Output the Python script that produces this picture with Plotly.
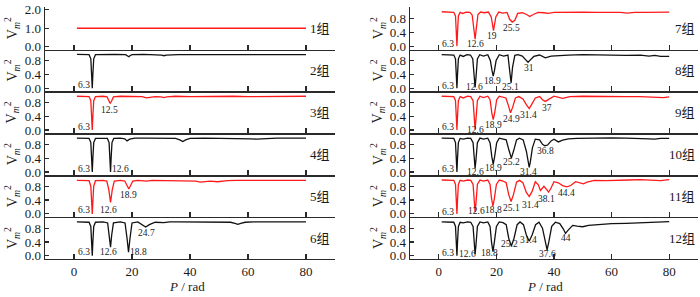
import plotly.graph_objects as go

# ---------------- data ----------------
x_g1 = [1, 20, 40, 60, 80]
y_g1 = [1.0, 1.0, 1.0, 1.0, 1.0]

x_g2 = [1, 4, 5.2, 5.8, 6.1, 6.3, 6.5, 6.8, 7.4, 10, 14, 17.8, 18.5, 18.9, 19.3, 20.0, 24, 28, 30.2, 31.0, 31.8, 36, 40, 45, 50, 53, 55.5, 58, 61, 64, 67, 71, 75, 80]
y_g2 = [0.98, 0.98, 0.97, 0.85, 0.4, 0.0, 0.4, 0.85, 0.97, 0.98, 0.98, 0.97, 0.94, 0.91, 0.94, 0.97, 0.98, 0.97, 0.96, 0.94, 0.96, 0.97, 0.97, 0.98, 0.97, 0.97, 0.96, 0.97, 0.96, 0.97, 0.97, 0.96, 0.97, 0.97]

x_g3 = [1, 4, 5.2, 5.8, 6.1, 6.3, 6.5, 6.8, 7.4, 10, 11.4, 12.0, 12.5, 13.0, 13.6, 16, 20, 23.5, 25, 26.5, 28, 30, 31, 32, 35, 40, 45, 50, 55, 60, 65, 70, 75, 80]
y_g3 = [0.98, 0.98, 0.97, 0.85, 0.4, 0.0, 0.4, 0.85, 0.97, 0.98, 0.96, 0.85, 0.77, 0.85, 0.96, 0.98, 0.98, 0.97, 0.93, 0.96, 0.97, 0.96, 0.94, 0.96, 0.98, 0.97, 0.98, 0.97, 0.98, 0.97, 0.97, 0.98, 0.97, 0.98]

x_g4 = [1, 4, 5.2, 5.8, 6.1, 6.3, 6.5, 6.8, 7.4, 10, 11.5, 12.1, 12.4, 12.6, 12.8, 13.1, 13.7, 16, 17.5, 18.3, 19.2, 21, 25, 29, 31, 33, 35, 36.5, 37.5, 38.5, 40, 45, 50, 55, 58, 61, 63, 66, 70, 75, 80]
y_g4 = [0.98, 0.98, 0.97, 0.85, 0.4, 0.0, 0.4, 0.85, 0.97, 0.98, 0.97, 0.85, 0.4, 0.0, 0.4, 0.85, 0.97, 0.98, 0.96, 0.9, 0.95, 0.98, 0.98, 0.97, 0.96, 0.97, 0.97, 0.93, 0.88, 0.93, 0.97, 0.98, 0.98, 0.98, 0.97, 0.96, 0.95, 0.97, 0.98, 0.98, 0.98]

x_g5 = [1, 4, 5.2, 5.8, 6.1, 6.3, 6.5, 6.8, 7.4, 10, 11.3, 12.0, 12.6, 13.2, 13.9, 16, 17.5, 18.3, 18.9, 19.5, 20.3, 22, 25, 27, 30, 35, 40, 42, 43.5, 45, 47, 49.5, 51, 53, 56, 60, 65, 70, 75, 78, 80]
y_g5 = [0.97, 0.97, 0.96, 0.8, 0.35, 0.0, 0.35, 0.8, 0.96, 0.97, 0.95, 0.7, 0.33, 0.7, 0.95, 0.97, 0.95, 0.82, 0.72, 0.82, 0.95, 0.97, 0.95, 0.97, 0.97, 0.97, 0.97, 0.95, 0.92, 0.94, 0.95, 0.93, 0.95, 0.96, 0.97, 0.97, 0.97, 0.96, 0.97, 0.95, 0.97]

x_g6 = [1, 4, 5.2, 5.8, 6.1, 6.3, 6.5, 6.8, 7.4, 10, 11.6, 12.2, 12.6, 13.0, 13.6, 16, 17.6, 18.3, 18.8, 19.3, 20.0, 22, 23.5, 24.7, 26, 28, 31, 33, 36, 40, 45, 50, 54, 55.5, 56.5, 57.5, 59, 62, 66, 70, 75, 80]
y_g6 = [0.98, 0.98, 0.97, 0.85, 0.4, 0.0, 0.4, 0.85, 0.97, 0.98, 0.95, 0.6, 0.25, 0.6, 0.95, 0.98, 0.95, 0.5, 0.1, 0.5, 0.95, 0.98, 0.9, 0.83, 0.9, 0.97, 0.96, 0.98, 0.98, 0.98, 0.97, 0.98, 0.97, 0.94, 0.91, 0.94, 0.97, 0.98, 0.98, 0.98, 0.98, 0.98]

x_g7 = [1, 3, 5.2, 5.8, 6.1, 6.3, 6.5, 6.8, 7.4, 8.3, 9.5, 10.8, 11.6, 12.2, 12.6, 13.0, 13.6, 14.5, 15.8, 17.2, 18.2, 19.0, 19.8, 20.8, 22.2, 23.7, 24.6, 25.5, 26.4, 27.4, 29, 30.5, 31.6, 32.8, 34.5, 36.5, 38, 40, 45, 50, 55, 60, 63, 65.5, 68, 72, 76, 80]
y_g7 = [1.0, 1.0, 0.98, 0.88, 0.4, 0.0, 0.4, 0.88, 0.98, 0.95, 0.99, 0.98, 0.9, 0.5, 0.2, 0.5, 0.92, 0.99, 0.97, 0.99, 0.85, 0.45, 0.85, 0.99, 0.96, 0.98, 0.78, 0.7, 0.75, 0.95, 0.97, 0.92, 0.86, 0.92, 0.98, 0.97, 0.95, 0.98, 0.99, 0.99, 0.98, 0.99, 0.98, 0.96, 0.98, 0.98, 0.99, 0.99]

x_g8 = [1, 3, 5.2, 5.8, 6.1, 6.3, 6.5, 6.8, 7.4, 8.5, 9.8, 11, 11.8, 12.3, 12.6, 12.9, 13.4, 14.2, 15.5, 17, 17.9, 18.5, 18.9, 19.3, 19.9, 21, 22.5, 24, 24.6, 25.1, 25.6, 26.4, 27.5, 29, 30.2, 31, 31.8, 33, 35, 37, 39, 42, 45, 50, 55, 60, 65, 70, 73, 75, 77, 80]
y_g8 = [0.97, 0.97, 0.96, 0.85, 0.4, 0.0, 0.4, 0.85, 0.96, 0.92, 0.97, 0.96, 0.85, 0.3, 0.02, 0.3, 0.85, 0.97, 0.93, 0.97, 0.8, 0.5, 0.35, 0.5, 0.8, 0.97, 0.93, 0.96, 0.6, 0.15, 0.6, 0.95, 0.97, 0.93, 0.82, 0.75, 0.82, 0.92, 0.96, 0.88, 0.93, 0.95, 0.96, 0.97, 0.96, 0.97, 0.95, 0.96, 0.93, 0.95, 0.92, 0.92]

x_g9 = [1, 3, 5.2, 5.8, 6.1, 6.3, 6.5, 6.8, 7.4, 8.5, 10, 11.1, 11.9, 12.3, 12.6, 12.9, 13.4, 14.3, 15.5, 17, 17.8, 18.4, 18.9, 19.4, 20.1, 21, 22.3, 23.3, 24.2, 24.9, 25.6, 26.6, 27.8, 29.2, 30.5, 31.4, 32.3, 33.5, 35, 36, 37, 38.2, 40, 43, 45.5, 50, 55, 60, 65, 70, 75, 78, 80]
y_g9 = [0.98, 0.98, 0.97, 0.85, 0.4, 0.0, 0.4, 0.85, 0.97, 0.93, 0.98, 0.97, 0.85, 0.3, 0.02, 0.3, 0.85, 0.98, 0.94, 0.98, 0.88, 0.5, 0.3, 0.5, 0.88, 0.98, 0.94, 0.93, 0.7, 0.5, 0.65, 0.93, 0.97, 0.9, 0.72, 0.62, 0.75, 0.93, 0.97, 0.88, 0.83, 0.9, 0.98, 0.92, 0.97, 0.98, 0.97, 0.98, 0.97, 0.97, 0.96, 0.94, 0.96]

x_g10 = [1, 3, 5.2, 5.8, 6.1, 6.3, 6.5, 6.8, 7.4, 8.5, 10, 11.1, 11.9, 12.3, 12.6, 12.9, 13.4, 14.3, 15.5, 17, 17.8, 18.4, 18.9, 19.4, 20.1, 21, 22.3, 23.4, 24.4, 25.2, 26.0, 27, 28, 29.3, 30.4, 31.0, 31.4, 31.8, 32.5, 33.5, 35, 36, 36.8, 37.8, 39, 40, 41.5, 43, 45, 48, 52, 56, 60, 65, 70, 73, 75, 77, 80]
y_g10 = [0.98, 0.98, 0.97, 0.85, 0.4, 0.0, 0.4, 0.85, 0.97, 0.95, 0.98, 0.97, 0.85, 0.35, 0.1, 0.35, 0.85, 0.98, 0.95, 0.98, 0.85, 0.45, 0.22, 0.45, 0.85, 0.98, 0.95, 0.93, 0.62, 0.4, 0.62, 0.93, 0.98, 0.93, 0.6, 0.3, 0.13, 0.3, 0.7, 0.95, 0.93, 0.8, 0.76, 0.78, 0.9, 0.95, 0.87, 0.92, 0.96, 0.97, 0.98, 0.99, 0.99, 0.98, 0.98, 0.96, 0.95, 0.97, 0.97]

x_g11 = [1, 3, 5.2, 5.8, 6.1, 6.3, 6.5, 6.8, 7.4, 8.5, 10, 11.1, 11.9, 12.3, 12.6, 12.9, 13.4, 14.3, 15.5, 17, 17.8, 18.3, 18.8, 19.3, 20.0, 21, 22.3, 23.4, 24.3, 25.1, 25.9, 27, 28, 29.2, 30.4, 31.4, 32.4, 33.5, 34.5, 35.3, 36.5, 37.5, 38.1, 38.8, 40, 41.5, 43, 44.4, 45.8, 47.5, 49, 50.2, 51.5, 54, 58, 62, 66, 70, 74, 77, 80]
y_g11 = [0.98, 0.98, 0.97, 0.85, 0.4, 0.0, 0.4, 0.85, 0.97, 0.95, 0.98, 0.97, 0.85, 0.3, 0.05, 0.3, 0.85, 0.98, 0.95, 0.98, 0.85, 0.45, 0.22, 0.45, 0.85, 0.98, 0.95, 0.9, 0.55, 0.36, 0.55, 0.92, 0.97, 0.9, 0.62, 0.5, 0.65, 0.93, 0.85, 0.68, 0.8, 0.7, 0.63, 0.72, 0.93, 0.9, 0.82, 0.78, 0.82, 0.93, 0.9, 0.87, 0.92, 0.97, 0.96, 0.98, 0.98, 0.99, 0.98, 0.96, 0.99]

x_g12 = [1, 3, 5.2, 5.8, 6.1, 6.3, 6.5, 6.8, 7.4, 8.5, 10, 11.1, 11.9, 12.3, 12.6, 12.9, 13.4, 14.3, 15.5, 17, 17.8, 18.3, 18.8, 19.3, 20.0, 21, 22.3, 23.4, 24.3, 25.2, 26.1, 27.2, 28.2, 29.4, 30.4, 31.4, 32.4, 33.6, 34.8, 36.0, 37.0, 37.6, 38.2, 39.2, 40.5, 42, 43.2, 44.0, 45, 46.5, 48, 50, 52, 55, 60, 65, 70, 75, 78, 80]
y_g12 = [0.98, 0.98, 0.97, 0.85, 0.4, 0.0, 0.4, 0.85, 0.97, 0.95, 0.98, 0.97, 0.85, 0.3, 0.05, 0.3, 0.85, 0.98, 0.95, 0.98, 0.85, 0.4, 0.12, 0.4, 0.85, 0.98, 0.96, 0.9, 0.5, 0.28, 0.5, 0.9, 0.98, 0.9, 0.6, 0.42, 0.6, 0.9, 0.97, 0.8, 0.4, 0.17, 0.4, 0.85, 0.97, 0.93, 0.78, 0.65, 0.75, 0.88, 0.86, 0.84, 0.88, 0.9, 0.93, 0.94, 0.96, 0.97, 0.99, 0.99]

group_names = ["1组", "2组", "3组", "4组", "5组", "6组", "7组", "8组", "9组", "10组", "11组", "12组"]

peak_g2 = ["6.3"]
peak_g3 = ["6.3", "12.5"]
peak_g4 = ["6.3", "12.6"]
peak_g5 = ["6.3", "12.6", "18.9"]
peak_g6 = ["6.3", "12.6", "18.8", "24.7"]
peak_g7 = ["6.3", "12.6", "19", "25.5"]
peak_g8 = ["6.3", "12.6", "18.9", "25.1", "31"]
peak_g9 = ["6.3", "12.6", "18.9", "24.9", "31.4", "37"]
peak_g10 = ["6.3", "12.6", "18.9", "25.2", "31.4", "36.8"]
peak_g11 = ["6.3", "12.6", "18.8", "25.1", "31.4", "38.1", "44.4"]
peak_g12 = ["6.3", "12.6", "18.8", "25.2", "31.4", "37.6", "44"]

x_ticks = [0, 20, 40, 60, 80]

# ---------------- layout helpers ----------------
W, H = 700, 297
RED = "#ff1a1a"
BLK = "#111111"
AX = "#2a2a2a"
SERIF = "Liberation Serif, Times New Roman, serif"
CJK = "Liberation Serif, Noto Sans CJK SC, serif"

rows_px = [(3, 47), (47, 90.2), (90.2, 133.4), (133.4, 176.6), (176.6, 219.8), (219.8, 263)]
cols_px = [(45, 335), (410, 698)]

# label positions in data coordinates (x, y) for each group's peak labels
label_pos = {
    2: [(3.3, 0.1)],
    3: [(3.3, 0.1), (12.4, 0.57)],
    4: [(3.3, 0.1), (16.2, 0.08)],
    5: [(3.3, 0.1), (11.8, 0.1), (18.7, 0.55)],
    6: [(3.3, 0.1), (11.8, 0.1), (22.4, 0.12), (25.0, 0.66)],
    7: [(3.3, 0.07), (12.6, 0.07), (18.6, 0.28), (25.2, 0.52)],
    8: [(3.3, 0.07), (12.5, 0.02), (18.8, 0.2), (24.9, 0.02), (31.2, 0.58)],
    9: [(3.3, 0.08), (12.6, 0.0), (18.9, 0.14), (25.2, 0.33), (31.2, 0.45), (37.6, 0.63)],
    10: [(3.3, 0.08), (12.6, -0.01), (18.9, 0.12), (25.2, 0.28), (31.3, 0.0), (37.2, 0.6)],
    11: [(3.3, 0.05), (13.0, 0.08), (18.9, 0.1), (25.2, 0.17), (32.0, 0.26), (37.4, 0.44), (44.2, 0.6)],
    12: [(3.3, 0.09), (9.8, 0.06), (17.5, 0.08), (24.6, 0.33), (31.2, 0.47), (37.6, 0.06), (44.0, 0.5)],
}

series = [
    (x_g1, y_g1, RED, None), (x_g2, y_g2, BLK, peak_g2), (x_g3, y_g3, RED, peak_g3),
    (x_g4, y_g4, BLK, peak_g4), (x_g5, y_g5, RED, peak_g5), (x_g6, y_g6, BLK, peak_g6),
    (x_g7, y_g7, RED, peak_g7), (x_g8, y_g8, BLK, peak_g8), (x_g9, y_g9, RED, peak_g9),
    (x_g10, y_g10, BLK, peak_g10), (x_g11, y_g11, RED, peak_g11), (x_g12, y_g12, BLK, peak_g12),
]

fig = go.Figure()
layout = dict(
    width=W, height=H, autosize=False,
    margin=dict(l=0, r=0, t=0, b=0),
    paper_bgcolor="white", plot_bgcolor="white",
    showlegend=False,
)
annotations = []

for k in range(1, 13):
    col = 0 if k <= 6 else 1
    row = (k - 1) % 6
    xs, ys, color, peaks = series[k - 1]
    xid = "x" if k == 1 else f"x{k}"
    yid = "y" if k == 1 else f"y{k}"
    xkey = "xaxis" if k == 1 else f"xaxis{k}"
    ykey = "yaxis" if k == 1 else f"yaxis{k}"

    fig.add_trace(go.Scatter(x=xs, y=ys, mode="lines",
                             line=dict(color=color, width=1.3),
                             xaxis=xid, yaxis=yid, hoverinfo="skip"))

    top, bot = rows_px[row]
    left, right = cols_px[col]
    ydom = [1 - bot / H, 1 - top / H]
    xdom = [left / W, right / W]

    if k == 1:
        yrange = [-0.16, 2.16]
        yt = [0, 1, 2]
        ytt = ["0.0", "1.0", "2.0"]
    elif k == 7:
        yrange = [-0.1, 1.14]
        yt = [0, 0.4, 0.8]
        ytt = ["0.0", "0.4", "0.8"]
    else:
        yrange = [-0.095, 1.118]
        yt = [0, 0.4, 0.8]
        ytt = ["0.0", "0.4", "0.8"]

    layout[xkey] = dict(
        domain=xdom, range=[-10, 90], anchor=yid,
        tickvals=x_ticks, ticktext=[str(v) for v in x_ticks],
        ticks="inside", ticklen=5, tickwidth=1.2, tickcolor=AX,
        showline=True, linecolor=AX, linewidth=1.3,
        showgrid=False, zeroline=False,
        showticklabels=(row == 5),
        tickfont=dict(family=SERIF, size=13, color="#1a1a1a"),
    )
    layout[ykey] = dict(
        domain=ydom, range=yrange, anchor=xid,
        tickvals=yt, ticktext=ytt,
        ticks="inside", ticklen=4, tickwidth=1.2, tickcolor=AX,
        showline=True, linecolor=AX, linewidth=1.3,
        showgrid=False, zeroline=False,
        ticklabeloverflow="allow",
        tickfont=dict(family=SERIF, size=13, color="#1a1a1a"),
    )

    ymid = 1 - (top + bot) / 2 / H
    # group label
    annotations.append(dict(
        text=group_names[k - 1], xref="paper", yref="paper",
        x=(332 if col == 0 else 697) / W, y=ymid,
        xanchor="right", yanchor="middle", showarrow=False,
        font=dict(family=CJK, size=13, color="#1a1a1a"),
    ))
    # y title
    annotations.append(dict(
        text="V<sub><i>m</i></sub><sup>2</sup>", xref="paper", yref="paper",
        x=(12 if col == 0 else 378) / W, y=ymid, textangle=-90,
        xanchor="center", yanchor="middle", showarrow=False,
        font=dict(family=SERIF, size=14, color="#1a1a1a"),
    ))
    # peak labels
    if peaks:
        for txt, (px, py) in zip(peaks, label_pos[k]):
            annotations.append(dict(
                text=txt, xref=xid, yref=yid, x=px, y=py,
                xanchor="center", yanchor="middle", showarrow=False,
                font=dict(family=SERIF, size=9.5, color="#1a1a1a"),
            ))

# x titles
for xid, xc in (("x6", 39), ("x12", 37)):
    annotations.append(dict(
        text="<i>P</i> / rad", xref=xid, yref="paper", x=xc, y=-0.01,
        xanchor="center", yanchor="bottom", showarrow=False, borderpad=0,
        font=dict(family=SERIF, size=13, color="#1a1a1a"),
    ))

layout["annotations"] = annotations
fig.update_layout(**layout)
fig.write_html("out.html",
               config={"staticPlot": True, "displayModeBar": False},
               post_script="document.body.style.margin='0';document.body.style.overflow='hidden';")
